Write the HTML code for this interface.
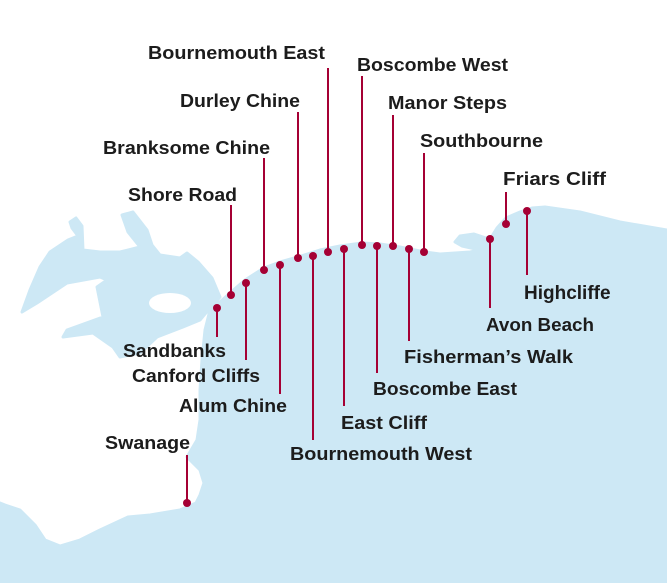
<!DOCTYPE html>
<html><head><meta charset="utf-8"><style>
html,body{margin:0;padding:0;background:#fff;}
svg{display:block}
text{font-family:"Liberation Sans",sans-serif;font-weight:bold;font-size:18px;fill:#1c1c1c;}
</style></head><body>
<svg width="667" height="583" viewBox="0 0 667 583" xmlns="http://www.w3.org/2000/svg">
<path fill="#cde8f5" stroke="#cde8f5" stroke-width="3" stroke-linejoin="round" d="
M667,230 L620,222 L580,212 L545,207 L532,208 L520,212 L506,218 L497,228 L492,236 L486,238 L474,234 L460,236 L455,242 L462,246 L480,250 L470,252 L440,254 L425,252 L400,247 L380,244 L362,243 L340,246 L320,250 L298,257 L280,262 L264,268 L245,280 L230,293 L220,302 L210,308
L200,320 L183,327 L157,337 L140,353 L120,357 L113,347 L93,333 L63,337 L67,330 L103,317 L97,287 L107,280 L100,277 L67,283 L37,303 L22,312 L30,290 L40,267 L50,252 L68,240 L78,236 L72,228 L70,222 L76,218 L82,226 L83,250 L100,252 L120,252 L140,247 L128,232 L122,215 L133,212 L147,230 L152,245 L160,255 L180,258 L187,253 L198,262 L212,278 L220,297
L210,310 L205,330 L202,360 L200,390 L200,420 L197,440 L187,457 L200,470 L204,483 L200,495 L196,503 L180,510 L150,515 L128,517 L100,530 L80,540 L60,546 L45,540 L35,525 L20,510 L5,505 L0,503 L0,583 L667,583 Z"/>
<ellipse cx="170" cy="303" rx="21" ry="10" fill="#fff"/>
<g stroke="#a50034" stroke-width="2">
<line x1="328" y1="68" x2="328" y2="252"/>
<line x1="298" y1="112" x2="298" y2="258"/>
<line x1="264" y1="158" x2="264" y2="270"/>
<line x1="231" y1="205" x2="231" y2="295"/>
<line x1="362" y1="76" x2="362" y2="245"/>
<line x1="393" y1="115" x2="393" y2="246"/>
<line x1="424" y1="153" x2="424" y2="252"/>
<line x1="506" y1="192" x2="506" y2="224"/>
<line x1="527" y1="211" x2="527" y2="275"/>
<line x1="490" y1="239" x2="490" y2="308"/>
<line x1="409" y1="249" x2="409" y2="341"/>
<line x1="377" y1="246" x2="377" y2="373"/>
<line x1="344" y1="249" x2="344" y2="406"/>
<line x1="313" y1="256" x2="313" y2="440"/>
<line x1="280" y1="265" x2="280" y2="394"/>
<line x1="246" y1="283" x2="246" y2="360"/>
<line x1="217" y1="308" x2="217" y2="337"/>
<line x1="187" y1="455" x2="187" y2="503"/>
</g>
<g fill="#a50034">
<circle cx="328" cy="252" r="4"/><circle cx="298" cy="258" r="4"/><circle cx="264" cy="270" r="4"/><circle cx="231" cy="295" r="4"/>
<circle cx="362" cy="245" r="4"/><circle cx="393" cy="246" r="4"/><circle cx="424" cy="252" r="4"/><circle cx="506" cy="224" r="4"/>
<circle cx="527" cy="211" r="4"/><circle cx="490" cy="239" r="4"/><circle cx="409" cy="249" r="4"/><circle cx="377" cy="246" r="4"/>
<circle cx="344" cy="249" r="4"/><circle cx="313" cy="256" r="4"/><circle cx="280" cy="265" r="4"/><circle cx="246" cy="283" r="4"/>
<circle cx="217" cy="308" r="4"/><circle cx="187" cy="503" r="4"/>
</g>
<text x="148" y="59" textLength="177" lengthAdjust="spacingAndGlyphs">Bournemouth East</text>
<text x="180" y="107" textLength="120" lengthAdjust="spacingAndGlyphs">Durley Chine</text>
<text x="103" y="154" textLength="167" lengthAdjust="spacingAndGlyphs">Branksome Chine</text>
<text x="128" y="201" textLength="109" lengthAdjust="spacingAndGlyphs">Shore Road</text>
<text x="357" y="71" textLength="151" lengthAdjust="spacingAndGlyphs">Boscombe West</text>
<text x="388" y="109" textLength="119" lengthAdjust="spacingAndGlyphs">Manor Steps</text>
<text x="420" y="147" textLength="123" lengthAdjust="spacingAndGlyphs">Southbourne</text>
<text x="503" y="185" textLength="103" lengthAdjust="spacingAndGlyphs">Friars Cliff</text>
<text x="524" y="299" style="font-size:19px">Highcliffe</text>
<text x="486" y="331" textLength="108" lengthAdjust="spacingAndGlyphs">Avon Beach</text>
<text x="404" y="363" textLength="169" lengthAdjust="spacingAndGlyphs">Fisherman’s Walk</text>
<text x="373" y="395" textLength="144" lengthAdjust="spacingAndGlyphs">Boscombe East</text>
<text x="341" y="429" textLength="86" lengthAdjust="spacingAndGlyphs">East Cliff</text>
<text x="290" y="460" textLength="182" lengthAdjust="spacingAndGlyphs">Bournemouth West</text>
<text x="179" y="412" textLength="108" lengthAdjust="spacingAndGlyphs">Alum Chine</text>
<text x="132" y="382" textLength="128" lengthAdjust="spacingAndGlyphs">Canford Cliffs</text>
<text x="123" y="357" textLength="103" lengthAdjust="spacingAndGlyphs">Sandbanks</text>
<text x="105" y="449" textLength="85" lengthAdjust="spacingAndGlyphs">Swanage</text>
</svg>
</body></html>
